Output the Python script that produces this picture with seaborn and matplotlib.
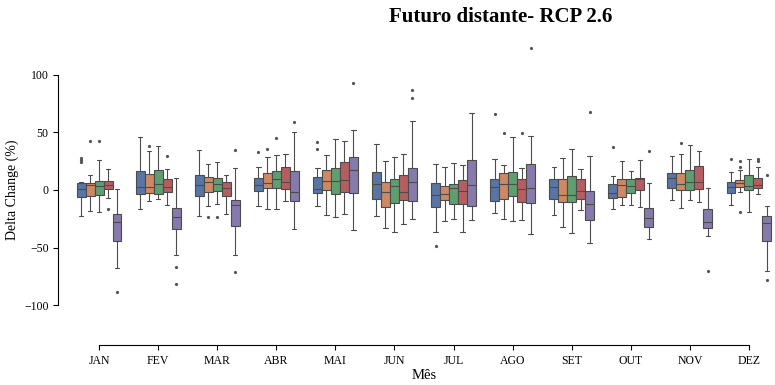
import numpy as np
import pandas as pd
import matplotlib
matplotlib.use("Agg")
import matplotlib.pyplot as plt
import seaborn as sns

MONTHS = ["JAN", "FEV", "MAR", "ABR", "MAI", "JUN", "JUL", "AGO", "SET", "OUT", "NOV", "DEZ"]
MODELS = ["Modelo 1", "Modelo 2", "Modelo 3", "Modelo 4", "Modelo 5"]

# Box statistics (one list of 12 months per model)
WLO = [
    [-22.6, -16.8, -22.6, -13.9, -13.6, -22.6, -36.5, -19.7, -21.7, -16.5, -9.0, -13.3],
    [-18.3, -9.9, -13.6, -16.5, -21.7, -33.3, -27.2, -25.5, -32.5, -13.3, -15.7, -2.0],
    [-19.1, -8.1, -12.2, -16.5, -23.2, -36.5, -24.9, -26.7, -37.7, -13.3, -8.7, -18.8],
    [-6.7, -12.8, -21.2, -9.9, -21.2, -29.6, -36.5, -26.1, -17.4, -14.5, -10.7, -3.5],
    [-67.5, -56.8, -56.8, -33.9, -35.1, -24.9, -25.8, -38.6, -46.1, -42.3, -40.3, -70.1],
]
Q1 = [
    [-5.8, -3.5, -5.2, -0.6, -2.3, -7.8, -15.1, -9.6, -7.8, -6.7, 2.0, -2.3],
    [-5.2, -2.3, -1.7, 1.7, 0.3, -14.5, -9.0, -8.1, -10.7, -6.1, 0.0, 2.6],
    [-4.1, -3.8, -0.9, 1.7, -3.5, -11.6, -12.2, -5.2, -10.7, -2.3, 0.0, 0.0],
    [0.6, -1.7, -4.9, 0.9, -2.0, -8.7, -12.2, -10.1, -8.1, 0.0, 0.6, 1.7],
    [-44.1, -33.6, -31.3, -9.9, -2.9, -9.3, -13.6, -11.6, -25.8, -32.2, -32.8, -44.1],
]
MED = [
    [0.6, 2.9, 4.1, 4.1, 0.6, 5.2, -4.6, 2.3, 2.9, -2.9, 10.7, 2.3],
    [4.1, 2.3, 6.7, 6.4, 8.1, -1.4, -3.8, 5.2, -4.3, 4.6, 5.2, 5.8],
    [3.5, 5.2, 4.9, 9.6, 7.8, 3.2, 1.4, 4.9, -4.3, 3.5, 6.7, 3.5],
    [4.3, 2.9, 1.7, 7.0, 8.4, -2.0, -1.2, 0.6, -0.9, 9.9, 6.7, 4.1],
    [-28.1, -23.8, -13.0, -1.4, 17.7, 6.7, 4.3, 1.7, -12.2, -24.1, -28.1, -29.0],
]
Q3 = [
    [5.8, 16.8, 12.8, 10.1, 11.3, 15.9, 6.1, 9.9, 9.9, 5.2, 15.1, 7.0],
    [6.4, 13.6, 11.0, 14.5, 17.4, 7.2, 3.5, 14.5, 9.3, 9.3, 15.1, 8.7],
    [8.1, 17.4, 10.7, 16.2, 18.8, 9.3, 5.5, 15.4, 12.5, 9.9, 17.4, 12.8],
    [8.1, 9.9, 7.2, 19.7, 24.1, 12.8, 8.7, 9.9, 9.3, 10.7, 20.6, 10.1],
    [-20.9, -15.9, -9.0, 16.8, 29.0, 19.1, 26.1, 22.3, -0.6, -15.9, -16.8, -22.9],
]
WHI = [
    [7.2, 46.4, 35.1, 19.7, 19.1, 40.3, 22.9, 26.7, 19.7, 12.5, 29.9, 15.4],
    [12.8, 33.9, 22.6, 28.4, 30.4, 25.2, 20.3, 22.0, 27.5, 25.2, 31.0, 17.4],
    [26.0, 38.6, 24.3, 30.4, 44.1, 29.0, 23.8, 45.8, 35.4, 16.2, 38.8, 27.0],
    [18.0, 18.6, 13.3, 31.3, 42.6, 31.0, 21.4, 19.1, 18.3, 26.1, 33.6, 19.7],
    [0.9, 10.1, 19.4, 50.4, 51.9, 60.0, 67.2, 47.0, 29.6, 6.1, 1.7, -13.9],
]
# Outliers: (month, model index, value)
OUTLIERS = [
    ("JAN", 0, 24.0), ("JAN", 0, 26.0), ("JAN", 0, 28.0), ("JAN", 1, 42.3), ("JAN", 2, 42.3),
    ("JAN", 3, -16.5), ("JAN", 4, -88.7),
    ("FEV", 1, 38.6), ("FEV", 3, 29.9), ("FEV", 4, -67.0), ("FEV", 4, -81.4),
    ("MAR", 1, -23.5), ("MAR", 2, -23.5), ("MAR", 4, 35.1), ("MAR", 4, -71.3),
    ("ABR", 0, 33.3), ("ABR", 1, 35.7), ("ABR", 2, 45.2), ("ABR", 4, 59.4),
    ("MAI", 0, 42.0), ("MAI", 0, 35.4), ("MAI", 4, 93.0),
    ("JUN", 4, 87.2), ("JUN", 4, 80.0),
    ("JUL", 0, -48.4),
    ("AGO", 0, 66.4), ("AGO", 1, 49.9), ("AGO", 3, 49.9), ("AGO", 4, 123.5),
    ("SET", 4, 68.1),
    ("OUT", 0, 37.1), ("OUT", 4, 34.2),
    ("NOV", 1, 40.9), ("NOV", 4, -70.1),
    ("DEZ", 0, 27.0), ("DEZ", 1, 25.5), ("DEZ", 1, 20.0), ("DEZ", 1, -19.1),
    ("DEZ", 3, 27.2), ("DEZ", 3, 24.9), ("DEZ", 4, 12.8), ("DEZ", 4, -78.0),
]


def sample_for_box(wlo, q1, med, q3, whi, outs):
    """Values whose quartiles / whiskers / fliers reproduce the read statistics."""
    lo = sorted([o for o in outs if o < q1]) + [wlo]
    hi = [whi] + sorted([o for o in outs if o > q3])
    a, b = len(lo), len(hi)
    m = max(a, b) + 1
    vals = lo + [q1] * (m - a + 1) + [med] * m + [q3] * m + [q3] * (m - b) + hi
    return vals


rows = []
for k, model in enumerate(MODELS):
    for j, month in enumerate(MONTHS):
        outs = [v for (mo, mk, v) in OUTLIERS if mo == month and mk == k]
        for v in sample_for_box(WLO[k][j], Q1[k][j], MED[k][j], Q3[k][j], WHI[k][j], outs):
            rows.append((month, model, v))
df = pd.DataFrame(rows, columns=["Mês", "Modelo", "Delta"])

sns.set_style("ticks")
plt.rcParams["font.family"] = ["Liberation Serif", "DejaVu Serif"]
plt.rcParams.update({
    "text.color": "black", "axes.labelcolor": "black",
    "xtick.color": "black", "ytick.color": "black", "axes.edgecolor": "black",
})

fig = plt.figure(figsize=(7.75, 3.85), dpi=100)
ax = fig.add_axes([69.5 / 775, 0.1331, 709 / 775, 0.7468])

sns.boxplot(data=df, x="Mês", y="Delta", hue="Modelo", order=MONTHS, hue_order=MODELS,
            palette="deep", width=0.76, linewidth=0.8, fliersize=1.3, legend=False, ax=ax,
            flierprops=dict(marker="o", markerfacecolor="#555555", markeredgecolor="#555555"))

ax.set_ylim(-125, 125)
ax.set_yticks([-100, -50, 0, 50, 100])
ax.tick_params(labelsize=8.5, length=3.5, width=0.8)
ax.set_xlabel("Mês", fontsize=10.5, labelpad=2)
ax.set_ylabel("Delta Change (%)", fontsize=10)
for s in ["left", "bottom"]:
    ax.spines[s].set_linewidth(0.8)
sns.despine(ax=ax, offset=8, trim=True)

fig.text(501 / 775, 1 - 16.5 / 385, "Futuro distante- RCP 2.6", ha="center", va="center",
         fontsize=15, fontweight="bold")

fig.savefig("out.png", dpi=100)
